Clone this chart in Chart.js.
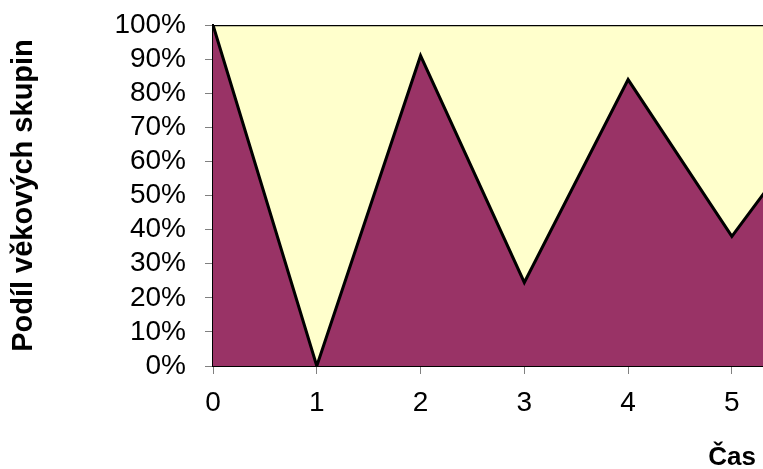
<!DOCTYPE html>
<html>
<head>
<meta charset="utf-8">
<script src="https://cdn.jsdelivr.net/npm/chart.js@4"></script>
<style>
html,body{margin:0;padding:0;background:#fff;overflow:hidden;}
canvas{display:block;}
</style>
</head>
<body>
<canvas id="c" width="763" height="469"></canvas>
<script>
// Data
const times = [0, 1, 2, 3, 4, 5, 6];
const shareLower = [100, 0, 91, 24.5, 84, 38, 79];   // purple area (%)
const shareTotal = [100, 100, 100, 100, 100, 100, 100]; // top of yellow area (%)
const xTicks = [0, 1, 2, 3, 4, 5];
const yTicks = [0, 10, 20, 30, 40, 50, 60, 70, 80, 90, 100];
const yTitle = 'Podíl věkových skupin';
const xTitle = 'Čas';

const FONT = "'Liberation Sans', Arial, sans-serif";

const xTitlePlugin = {
  id: 'xTitlePlugin',
  afterDraw(chart) {
    const ctx = chart.ctx;
    ctx.save();
    ctx.font = 'bold 26px ' + FONT;
    ctx.fillStyle = '#000';
    ctx.textAlign = 'right';
    ctx.textBaseline = 'alphabetic';
    ctx.fillText(xTitle, 756, 465);
    ctx.restore();
  }
};

new Chart(document.getElementById('c'), {
  type: 'line',
  data: {
    datasets: [
      {
        label: 'lower',
        data: times.map((t, i) => ({x: t, y: shareLower[i]})),
        backgroundColor: '#993366',
        borderColor: '#000',
        borderWidth: 3,
        pointRadius: 0,
        tension: 0,
        fill: 'origin'
      },
      {
        label: 'upper',
        data: times.map((t, i) => ({x: t, y: shareTotal[i]})),
        backgroundColor: '#FFFFCC',
        borderColor: '#000',
        borderWidth: 2.5,
        pointRadius: 0,
        tension: 0,
        fill: '-1'
      }
    ]
  },
  options: {
    responsive: false,
    animation: false,
    devicePixelRatio: 1,
    layout: {padding: {top: 25, right: 0, bottom: 0, left: 0}},
    plugins: {legend: {display: false}, tooltip: {enabled: false}},
    scales: {
      x: {
        type: 'linear',
        min: 0,
        max: 5.3,
        afterBuildTicks(scale) { scale.ticks = xTicks.map(v => ({value: v})); },
        afterFit(scale) { scale.height = 103; scale.paddingLeft = 0; scale.paddingRight = 0; },
        grid: {display: true, drawOnChartArea: false, drawTicks: true, tickLength: 8, tickColor: '#808080'},
        border: {display: true, color: '#000', width: 2},
        ticks: {color: '#000', font: {family: FONT, size: 28}, padding: 12, autoSkip: false, maxRotation: 0}
      },
      y: {
        min: 0,
        max: 100,
        afterBuildTicks(scale) { scale.ticks = yTicks.map(v => ({value: v})); },
        afterFit(scale) { scale.width = 213; scale.paddingTop = 0; scale.paddingBottom = 0; },
        grid: {display: true, drawOnChartArea: false, drawTicks: true, tickLength: 8, tickColor: '#808080'},
        border: {display: true, color: '#000', width: 2},
        ticks: {color: '#000', font: {family: FONT, size: 28}, padding: 19, autoSkip: false, callback: v => v + '%'},
        title: {display: true, text: yTitle, color: '#000', font: {family: FONT, size: 29, weight: 'bold'}, padding: {top: 7, bottom: 0}}
      }
    }
  },
  plugins: [xTitlePlugin]
});
</script>
</body>
</html>
